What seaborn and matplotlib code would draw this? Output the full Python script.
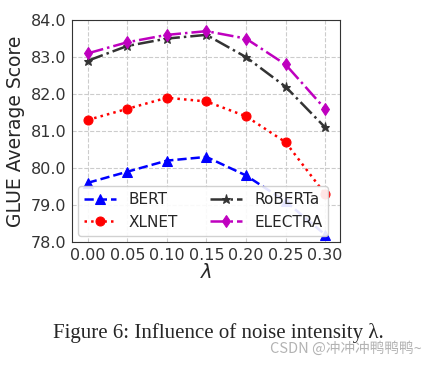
import matplotlib
matplotlib.use("Agg")
import matplotlib.pyplot as plt
import pandas as pd
import seaborn as sns

lambdas = [0.00, 0.05, 0.10, 0.15, 0.20, 0.25, 0.30]
bert = [79.6, 79.9, 80.2, 80.3, 79.8, 79.1, 78.2]
xlnet = [81.3, 81.6, 81.9, 81.8, 81.4, 80.7, 79.3]
roberta = [82.9, 83.3, 83.5, 83.6, 83.0, 82.2, 81.1]
electra = [83.1, 83.4, 83.6, 83.7, 83.5, 82.8, 81.6]

sns.set_style("whitegrid", {"grid.linestyle": "--", "axes.edgecolor": "0.2"})
plt.rcParams["font.family"] = ["DejaVu Sans"]

fig = plt.figure(figsize=(4.36, 3.65), dpi=100)
ax = fig.add_axes([0.165, 0.337, 0.615, 0.608])

series = [
    ("BERT", bert, "b", "--", "^", 6.5),
    ("XLNET", xlnet, "r", ":", "o", 6.5),
    ("RoBERTa", roberta, "0.2", "-.", "*", 6.5),
    ("ELECTRA", electra, "m", "-.", "d", 6.5),
]
for name, vals, c, ls, mk, ms in series:
    df = pd.DataFrame({"lam": lambdas, "score": vals})
    sns.lineplot(data=df, x="lam", y="score", ax=ax, color=c, linestyle=ls,
                 marker=mk, markersize=ms, markeredgecolor=c, linewidth=1.8,
                 label=name)

ax.set_xlim(-0.02, 0.319)
ax.set_ylim(78.0, 84.0)
ax.set_xticks(lambdas)
ax.set_xticklabels([f"{v:.2f}" for v in lambdas])
ax.set_yticks([78, 79, 80, 81, 82, 83, 84])
ax.set_yticklabels([f"{v:.1f}" for v in [78, 79, 80, 81, 82, 83, 84]])
ax.tick_params(labelsize=11.5, colors="0.2", length=0, pad=4)
ax.set_xlabel(r"$\lambda$", fontsize=14, labelpad=0)
ax.set_ylabel("GLUE Average Score", fontsize=13.5, color="0.15")
ax.legend(loc="lower left", ncol=2, fontsize=11, handlelength=2.1,
          handletextpad=0.8, columnspacing=2.1, borderaxespad=0.4,
          framealpha=0.9)

fig.text(0.5, 0.087, "Figure 6: Influence of noise intensity λ.",
         ha="center", va="center", fontsize=15, family="Liberation Serif")
fig.text(0.968, 0.045, "CSDN @冲冲冲鸭鸭鸭~", ha="right", va="center",
         fontsize=10.5, color="0.7", family=["Noto Sans CJK SC", "DejaVu Sans"])

fig.savefig("out.png", dpi=100)
